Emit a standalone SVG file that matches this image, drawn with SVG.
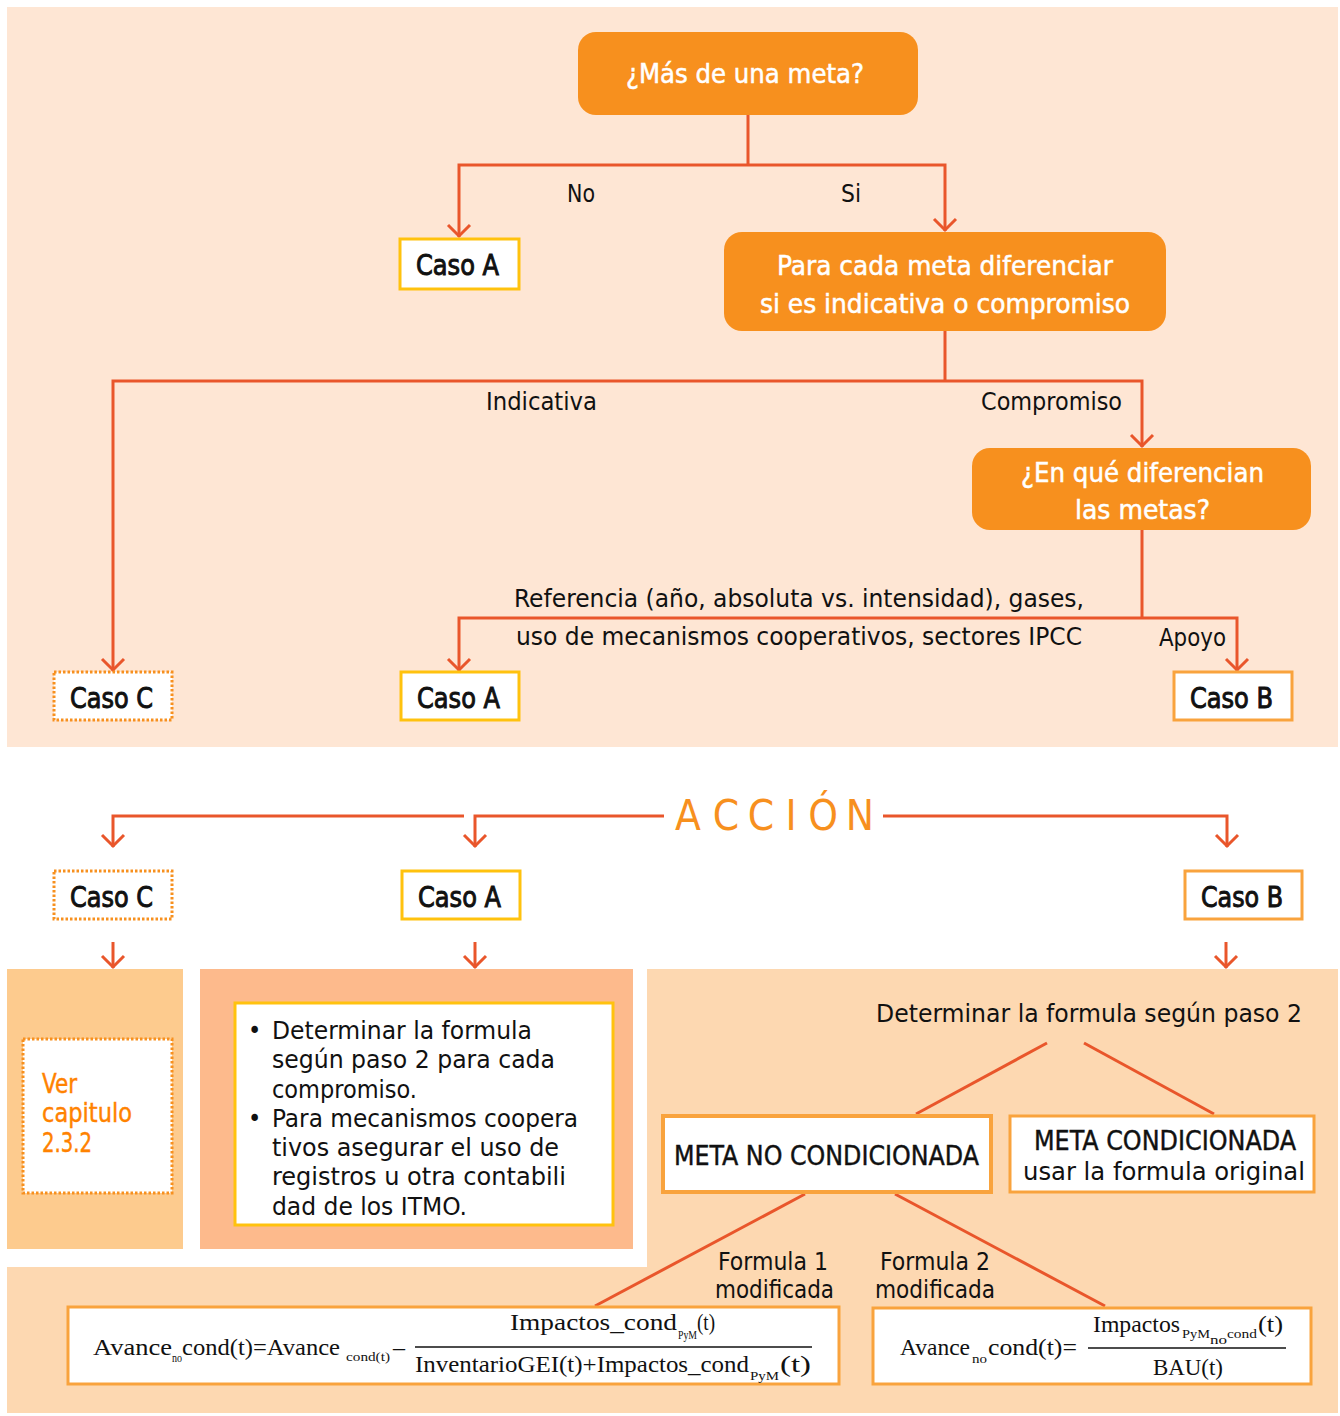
<svg xmlns="http://www.w3.org/2000/svg" width="1340" height="1416" viewBox="0 0 1340 1416">
<style>
.s{font-family:"DejaVu Sans Condensed","DejaVu Sans","Liberation Sans",sans-serif;font-stretch:condensed;fill:#111;font-size:25px}
.w{fill:#fff;font-size:27px;stroke:#fff;stroke-width:0.5}
.c{font-size:28px;stroke:#111;stroke-width:0.9}
.m{font-size:27px;stroke:#111;stroke-width:0.4}
.o{fill:#FF8200;font-size:26px;stroke:#FF8200;stroke-width:0.4}
.f{font-family:"Liberation Serif",serif;font-size:24px;fill:#111}
.fs{font-family:"Liberation Serif",serif;font-size:12px;fill:#111}
.ln{fill:none;stroke:#E9562B;stroke-width:3}
.ob{fill:#F7901E}
.ya{fill:#fff;stroke:#FFC20E;stroke-width:3}
.yb{fill:#fff;stroke:#F9A33D;stroke-width:3}
.yc{fill:#fff;stroke:#F7901E;stroke-width:3;stroke-dasharray:2.5 2}
.mb{fill:#fff;stroke:#F9A33D;stroke-width:4}
</style>
<defs>
<marker id="ah" viewBox="-13 -13 26 26" refX="1" refY="0" markerWidth="26" markerHeight="26" markerUnits="userSpaceOnUse" orient="auto">
<path d="M-11,-11 L0,0 L-11,11" fill="none" stroke="#E9562B" stroke-width="3"/>
</marker>
</defs>
<rect width="1340" height="1416" fill="#fff"/>
<rect x="7" y="7" width="1331" height="740" fill="#FEE6D4"/>
<rect x="7" y="969" width="176" height="280" fill="#FDCB8E"/>
<rect x="200" y="969" width="433" height="280" fill="#FDBA8C"/>
<path d="M647,969 H1338 V1413 H7 V1267 H647 Z" fill="#FDD8B1"/>

<g id="connectors">
<path class="ln" d="M748,115 V165"/>
<path class="ln" d="M748,165 H459 V237" marker-end="url(#ah)"/>
<path class="ln" d="M748,165 H945 V231" marker-end="url(#ah)"/>
<path class="ln" d="M945,331 V381"/>
<path class="ln" d="M945,381 H113 V671" marker-end="url(#ah)"/>
<path class="ln" d="M945,381 H1142 V447" marker-end="url(#ah)"/>
<path class="ln" d="M1142,530 V618"/>
<path class="ln" d="M1142,618 H459 V671" marker-end="url(#ah)"/>
<path class="ln" d="M1142,618 H1237 V671" marker-end="url(#ah)"/>
<path class="ln" d="M464,816 H113 V847" marker-end="url(#ah)"/>
<path class="ln" d="M664,816 H475 V847" marker-end="url(#ah)"/>
<path class="ln" d="M883,816 H1227 V847" marker-end="url(#ah)"/>
<path class="ln" d="M113,942 V968" marker-end="url(#ah)"/>
<path class="ln" d="M475,942 V968" marker-end="url(#ah)"/>
<path class="ln" d="M1226,942 V968" marker-end="url(#ah)"/>
<path class="ln" d="M1047,1043 L916,1114"/>
<path class="ln" d="M1084,1043 L1214,1114"/>
<path class="ln" d="M805,1194 L595,1306"/>
<path class="ln" d="M895,1194 L1105,1306"/>
</g>

<g id="labels">
<text class="s" x="567" y="202" textLength="28" lengthAdjust="spacingAndGlyphs">No</text>
<text class="s" x="841" y="202" textLength="20" lengthAdjust="spacingAndGlyphs">Si</text>
<text class="s" x="486" y="410" textLength="111" lengthAdjust="spacingAndGlyphs">Indicativa</text>
<text class="s" x="981" y="410" textLength="141" lengthAdjust="spacingAndGlyphs">Compromiso</text>
<text class="s" x="514" y="607" textLength="570" lengthAdjust="spacingAndGlyphs">Referencia (año, absoluta vs. intensidad), gases,</text>
<text class="s" x="516" y="645" textLength="566" lengthAdjust="spacingAndGlyphs">uso de mecanismos cooperativos, sectores IPCC</text>
<text class="s" x="1159" y="646" textLength="67" lengthAdjust="spacingAndGlyphs">Apoyo</text>
<text class="s" x="718" y="1270" textLength="110" lengthAdjust="spacingAndGlyphs">Formula 1</text>
<text class="s" x="715" y="1298" textLength="119" lengthAdjust="spacingAndGlyphs">modificada</text>
<text class="s" x="880" y="1270" textLength="110" lengthAdjust="spacingAndGlyphs">Formula 2</text>
<text class="s" x="875" y="1298" textLength="120" lengthAdjust="spacingAndGlyphs">modificada</text>
</g>

<g id="q1">
<rect class="ob" x="578" y="32" width="340" height="83" rx="18"/>
<text class="s w" x="626" y="83" textLength="238" lengthAdjust="spacingAndGlyphs">¿Más de una meta?</text>
</g>
<g id="casoA1">
<rect class="ya" x="400" y="239" width="119" height="50"/>
<text class="s c" x="416" y="275" textLength="83" lengthAdjust="spacingAndGlyphs">Caso A</text>
</g>
<g id="q2">
<rect class="ob" x="724" y="232" width="442" height="99" rx="18"/>
<text class="s w" x="777" y="275" textLength="336" lengthAdjust="spacingAndGlyphs">Para cada meta diferenciar</text>
<text class="s w" x="760" y="313" textLength="370" lengthAdjust="spacingAndGlyphs">si es indicativa o compromiso</text>
</g>
<g id="q3">
<rect class="ob" x="972" y="448" width="339" height="82" rx="18"/>
<text class="s w" x="1021" y="482" textLength="243" lengthAdjust="spacingAndGlyphs">¿En qué diferencian</text>
<text class="s w" x="1075" y="519" textLength="135" lengthAdjust="spacingAndGlyphs">las metas?</text>
</g>
<g id="casoC1">
<rect class="yc" x="54" y="672" width="118" height="48"/>
<text class="s c" x="70" y="708" textLength="83" lengthAdjust="spacingAndGlyphs">Caso C</text>
</g>
<g id="casoA2">
<rect class="ya" x="401" y="672" width="118" height="48"/>
<text class="s c" x="417" y="708" textLength="83" lengthAdjust="spacingAndGlyphs">Caso A</text>
</g>
<g id="casoB1">
<rect class="yb" x="1174" y="672" width="118" height="48"/>
<text class="s c" x="1190" y="708" textLength="83" lengthAdjust="spacingAndGlyphs">Caso B</text>
</g>

<g id="accion">
<text class="s" x="688 726 761 791 823 860" y="830" text-anchor="middle" style="font-size:42px;fill:#F7901E">ACCIÓN</text>
</g>

<g id="casoC2">
<rect class="yc" x="54" y="871" width="118" height="48"/>
<text class="s c" x="70" y="907" textLength="83" lengthAdjust="spacingAndGlyphs">Caso C</text>
</g>
<g id="casoA3">
<rect class="ya" x="402" y="871" width="118" height="48"/>
<text class="s c" x="418" y="907" textLength="83" lengthAdjust="spacingAndGlyphs">Caso A</text>
</g>
<g id="casoB2">
<rect class="yb" x="1185" y="871" width="117" height="48"/>
<text class="s c" x="1201" y="907" textLength="82" lengthAdjust="spacingAndGlyphs">Caso B</text>
</g>

<g id="verCap">
<rect class="yc" x="23" y="1039" width="149" height="154"/>
<text class="s o" x="42" y="1093" textLength="35" lengthAdjust="spacingAndGlyphs">Ver</text>
<text class="s o" x="42" y="1122" textLength="90" lengthAdjust="spacingAndGlyphs">capitulo</text>
<text class="s o" x="42" y="1152" textLength="50" lengthAdjust="spacingAndGlyphs">2.3.2</text>
</g>

<g id="casoAtext">
<rect class="ya" x="235" y="1003" width="378" height="222"/>
<text class="s" x="248" y="1039">•</text>
<text class="s" x="272" y="1039" textLength="260" lengthAdjust="spacingAndGlyphs">Determinar la formula</text>
<text class="s" x="272" y="1068" textLength="283" lengthAdjust="spacingAndGlyphs">según paso 2 para cada</text>
<text class="s" x="272" y="1098" textLength="145" lengthAdjust="spacingAndGlyphs">compromiso.</text>
<text class="s" x="248" y="1127">•</text>
<text class="s" x="272" y="1127" textLength="306" lengthAdjust="spacingAndGlyphs">Para mecanismos coopera</text>
<text class="s" x="272" y="1156" textLength="287" lengthAdjust="spacingAndGlyphs">tivos asegurar el uso de</text>
<text class="s" x="272" y="1185" textLength="294" lengthAdjust="spacingAndGlyphs">registros u otra contabili</text>
<text class="s" x="272" y="1215" textLength="195" lengthAdjust="spacingAndGlyphs">dad de los ITMO.</text>
</g>

<g id="determinar">
<text class="s" x="876" y="1022" textLength="426" lengthAdjust="spacingAndGlyphs">Determinar la formula según paso 2</text>
</g>
<g id="metaNo">
<rect class="mb" x="663" y="1116" width="328" height="76"/>
<text class="s m" x="674" y="1165" textLength="305" lengthAdjust="spacingAndGlyphs">META NO CONDICIONADA</text>
</g>
<g id="metaCond">
<rect class="yb" x="1010" y="1116" width="304" height="76"/>
<text class="s m" x="1034" y="1150" textLength="262" lengthAdjust="spacingAndGlyphs">META CONDICIONADA</text>
<text class="s" x="1023" y="1180" textLength="282" lengthAdjust="spacingAndGlyphs">usar la formula original</text>
</g>

<g id="formula1">
<rect class="yb" x="68" y="1307" width="771" height="77"/>
<text class="f" x="93" y="1355" textLength="79" lengthAdjust="spacingAndGlyphs">Avance</text>
<text class="fs" x="172" y="1362" textLength="10" lengthAdjust="spacingAndGlyphs">no</text>
<text class="f" x="182" y="1355" textLength="158" lengthAdjust="spacingAndGlyphs">cond(t)=Avance</text>
<text class="fs" x="346" y="1361" textLength="44" lengthAdjust="spacingAndGlyphs">cond(t)</text>
<text class="f" x="393" y="1355" textLength="12" lengthAdjust="spacingAndGlyphs">–</text>
<text class="f" x="510" y="1330" textLength="167" lengthAdjust="spacingAndGlyphs">Impactos_cond</text>
<text class="fs" x="678" y="1339" textLength="19" lengthAdjust="spacingAndGlyphs">PyM</text>
<text class="f" x="697" y="1330" textLength="18" lengthAdjust="spacingAndGlyphs">(t)</text>
<path d="M415,1347 H812" stroke="#111" stroke-width="1.5"/>
<text class="f" x="415" y="1372" textLength="334" lengthAdjust="spacingAndGlyphs">InventarioGEI(t)+Impactos_cond</text>
<text class="fs" x="750" y="1380" textLength="29" lengthAdjust="spacingAndGlyphs">PyM</text>
<text class="f" x="780" y="1372" textLength="31" lengthAdjust="spacingAndGlyphs">(t)</text>
</g>

<g id="formula2">
<rect class="yb" x="873" y="1308" width="438" height="76"/>
<text class="f" x="900" y="1355" textLength="70" lengthAdjust="spacingAndGlyphs">Avance</text>
<text class="fs" x="972" y="1363" textLength="15" lengthAdjust="spacingAndGlyphs">no</text>
<text class="f" x="988" y="1355" textLength="89" lengthAdjust="spacingAndGlyphs">cond(t)=</text>
<text class="f" x="1093" y="1332" textLength="87" lengthAdjust="spacingAndGlyphs">Impactos</text>
<text class="fs" x="1182" y="1338" textLength="28" lengthAdjust="spacingAndGlyphs">PyM</text>
<text class="fs" x="1210" y="1344" textLength="17" lengthAdjust="spacingAndGlyphs">no</text>
<text class="fs" x="1227" y="1338" textLength="30" lengthAdjust="spacingAndGlyphs">cond</text>
<text class="f" x="1258" y="1332" textLength="25" lengthAdjust="spacingAndGlyphs">(t)</text>
<path d="M1088,1348 H1286" stroke="#111" stroke-width="1.5"/>
<text class="f" x="1153" y="1375" textLength="70" lengthAdjust="spacingAndGlyphs">BAU(t)</text>
</g>
</svg>
